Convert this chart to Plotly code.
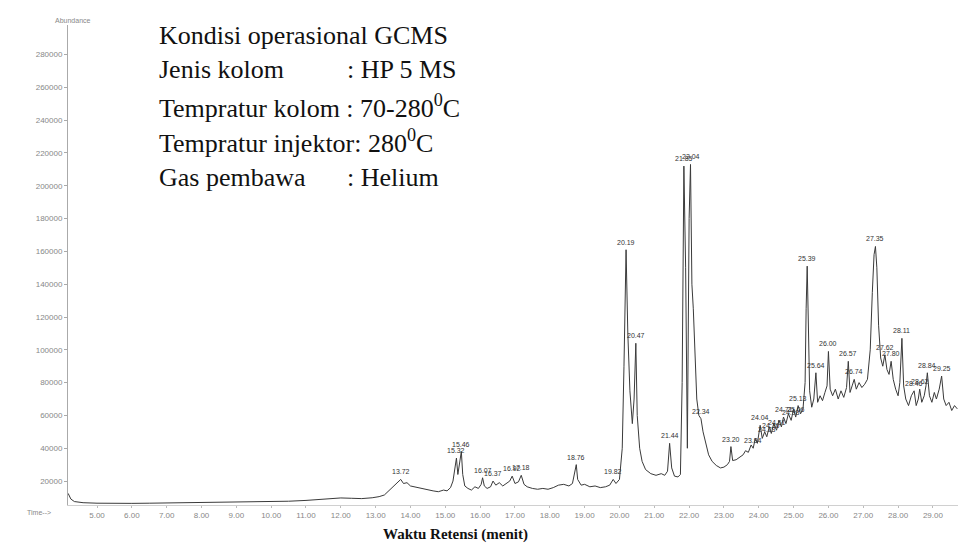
import numpy as np
import plotly.graph_objects as go

# ---- data (retention time in minutes, abundance) ----
time_min = [
    4.17, 4.25, 4.35, 4.6, 5.0, 5.5, 6.0, 6.5, 7.0, 7.5, 8.0, 8.5, 9.0, 9.5, 10.0, 10.5,
    11.0, 11.5, 12.0, 12.3, 12.6, 12.9, 13.1, 13.25, 13.35, 13.45, 13.55, 13.62, 13.72,
    13.8, 13.9, 14.0, 14.1, 14.2, 14.35, 14.5, 14.65, 14.8, 14.95, 15.05, 15.15, 15.22,
    15.28, 15.32, 15.36, 15.41, 15.46, 15.5, 15.56, 15.65, 15.75, 15.85, 15.95, 16.03,
    16.07, 16.12, 16.2, 16.3, 16.37, 16.45, 16.55, 16.65, 16.75, 16.85, 16.92, 17.0,
    17.1, 17.18, 17.26, 17.35, 17.5, 17.65, 17.8, 17.95, 18.1, 18.25, 18.4, 18.55,
    18.65, 18.72, 18.76, 18.8, 18.9, 19.0, 19.15, 19.3, 19.45, 19.6, 19.72, 19.82,
    19.9, 20.0, 20.08, 20.13, 20.19, 20.24, 20.3, 20.37, 20.42, 20.47, 20.51, 20.58,
    20.65, 20.75, 20.9, 21.05, 21.2, 21.3, 21.38, 21.44, 21.5, 21.58, 21.68, 21.75,
    21.8, 21.85, 21.9, 21.95, 22.0, 22.04, 22.08, 22.12, 22.17, 22.22, 22.28, 22.34,
    22.4, 22.48, 22.56, 22.66, 22.78, 22.9, 23.0, 23.1, 23.16, 23.2, 23.25, 23.35,
    23.45, 23.55, 23.62, 23.7, 23.78, 23.84, 23.9, 23.96, 24.04, 24.1, 24.17, 24.23,
    24.3, 24.36, 24.43, 24.51, 24.58, 24.65, 24.71, 24.78, 24.85, 24.93, 25.0, 25.06,
    25.13, 25.2, 25.27, 25.33, 25.36, 25.39, 25.42, 25.46, 25.52, 25.58, 25.64, 25.69,
    25.76, 25.83, 25.9, 25.96, 26.0, 26.05, 26.12, 26.2, 26.28, 26.36, 26.44, 26.52,
    26.57, 26.62, 26.68, 26.74, 26.8, 26.88, 26.96, 27.04, 27.12, 27.2, 27.26, 27.31,
    27.35, 27.39, 27.44, 27.5, 27.56, 27.62, 27.68, 27.74, 27.8, 27.86, 27.93, 28.0,
    28.05, 28.11, 28.16, 28.22, 28.3, 28.38, 28.46, 28.52, 28.58, 28.62, 28.68, 28.75,
    28.8, 28.84, 28.9, 28.97, 29.04, 29.1, 29.18, 29.25, 29.31, 29.38, 29.46, 29.54,
    29.62, 29.7,
]
abundance = [
    12500, 9000, 7500, 6800, 6500, 6300, 6400, 6500, 6600, 6700, 6800, 6900, 7000, 7100, 7300, 7700,
    8200, 8800, 9700, 9500, 9300, 9800, 10500, 11500, 13500, 16000, 17500, 19500, 21000,
    18500, 19000, 17000, 16500, 16000, 15500, 14500, 14000, 13500, 14500, 14000, 16000, 20000,
    28000, 34000, 24000, 30000, 38000, 24000, 17000, 15500, 14500, 16500, 15500, 18000,
    22000, 17000, 15500, 16500, 20000, 17500, 19000, 17000, 18500, 20000, 23000, 18500,
    19500, 23500, 18000, 16500, 15500, 15000, 15500, 15000, 16000, 17500, 18000, 17000,
    18500, 25000, 30000, 21000, 17500, 18000, 16500, 17000, 16000, 16500, 17500, 21000,
    18500, 21000, 40000, 90000, 161000, 110000, 75000, 55000, 70000, 104000, 60000, 40000,
    32000, 27000, 24500, 23500, 24500, 23500, 26000, 43000, 28000, 23000, 22500, 24000,
    80000, 212000, 150000, 40000, 180000, 213000, 140000, 125000, 95000, 70000, 60000, 58000,
    50000, 42000, 36000, 32000, 29500, 28000, 28500, 30000, 32000, 41000, 32500, 33000,
    34500, 36000, 38500, 37500, 42000, 40000, 46000, 43000, 54000, 46000, 50000, 47000,
    53000, 49000, 55000, 51000, 57000, 53000, 59000, 55000, 61000, 57000, 64000, 59000,
    66000, 61000, 64000, 80000, 125000, 151000, 120000, 75000, 65000, 70000, 86000, 68000,
    72000, 69000, 74000, 78000, 99000, 76000, 72000, 76000, 70000, 75000, 71000, 77000,
    93000, 74000, 78000, 82000, 76000, 80000, 77000, 79000, 82000, 100000, 135000, 158000,
    163000, 150000, 115000, 95000, 90000, 97000, 88000, 85000, 93000, 82000, 76000, 72000,
    80000, 107000, 78000, 70000, 66000, 72000, 75000, 66000, 70000, 76000, 68000, 72000,
    78000, 86000, 72000, 68000, 74000, 70000, 76000, 84000, 70000, 66000, 68000, 63000,
    66000, 64000,
]

peak_label_times = [
    13.72, 15.32, 15.46, 16.07, 16.37, 16.92, 17.18, 18.76, 19.82, 20.19, 20.47, 21.44,
    21.85, 22.04, 22.34, 23.20, 23.84, 24.04, 24.23, 24.36, 24.51, 24.71, 24.93, 25.06,
    25.13, 25.39, 25.64, 26.00, 26.57, 26.74, 27.35, 27.62, 27.80, 28.11, 28.46, 28.62,
    28.84, 29.25,
]
peak_label_texts = [f"{t:.2f}" for t in peak_label_times]

x_tick_vals = list(range(5, 30))
x_tick_text = [f"{v:.2f}" for v in x_tick_vals]
y_tick_vals = list(range(20000, 300000, 20000))
y_tick_text = [str(v) for v in y_tick_vals]

info_lines_left = ["Kondisi operasional GCMS", "Jenis kolom",
                   "Tempratur kolom : 70-280<sup>0</sup>C",
                   "Tempratur injektor: 280<sup>0</sup>C", "Gas pembawa"]
info_lines_right = ["", ": HP 5 MS", "", "", ": Helium"]

# ---- figure ----
t_arr = np.array(time_min)
a_arr = np.array(abundance)

fig = go.Figure()
fig.add_trace(go.Scatter(x=time_min, y=abundance, mode="lines",
                         line=dict(color="#3a3a3a", width=1), hoverinfo="skip"))

annotations = []
for t, txt in zip(peak_label_times, peak_label_texts):
    near = np.abs(t_arr - t) <= 0.035
    top = a_arr[near].max() if near.any() else np.interp(t, t_arr, a_arr)
    annotations.append(dict(x=t, y=float(top), text=txt, showarrow=False,
                            yanchor="bottom", yshift=2,
                            font=dict(family="Arial", size=7, color="#333333")))

serif = "Liberation Serif, Times New Roman, serif"
line_y = [0.979, 0.908, 0.831, 0.758, 0.683]
for yl, left, right in zip(line_y, info_lines_left, info_lines_right):
    annotations.append(dict(x=0.1, y=yl, xref="paper", yref="paper", text=left,
                            showarrow=False, xanchor="left", yanchor="middle",
                            font=dict(family=serif, size=26, color="#111")))
    if right:
        annotations.append(dict(x=0.311, y=yl, xref="paper", yref="paper", text=right,
                                showarrow=False, xanchor="left", yanchor="middle",
                                font=dict(family=serif, size=26, color="#111")))

annotations.append(dict(x=0.435, y=-0.083, xref="paper", yref="paper",
                        text="<b>Waktu Retensi (menit)</b>", showarrow=False,
                        font=dict(family=serif, size=15, color="#111")))
annotations.append(dict(x=-0.017, y=1.021, xref="paper", yref="paper", text="Abundance",
                        showarrow=False, font=dict(family="Arial", size=7, color="#888")))
annotations.append(dict(x=-0.048, y=-0.027, xref="paper", yref="paper", text="Time-->",
                        showarrow=False, font=dict(family="Arial", size=7, color="#888")))

fig.update_layout(
    width=961, height=560,
    margin=dict(l=68, r=3, t=25, b=55),
    paper_bgcolor="white", plot_bgcolor="white",
    showlegend=False,
    annotations=annotations,
    xaxis=dict(range=[4.167, 29.72], tickvals=x_tick_vals, ticktext=x_tick_text,
               showgrid=False, zeroline=False, showline=True, linecolor="#d0d0d0",
               linewidth=1, ticks="outside", ticklen=2, tickcolor="#bbb",
               tickfont=dict(family="Arial", size=8, color="#888")),
    yaxis=dict(range=[5400, 298000], tickvals=y_tick_vals, ticktext=y_tick_text,
               showgrid=False, zeroline=False, showline=True, linecolor="#aaa",
               linewidth=1, ticks="outside", ticklen=3, tickcolor="#aaa",
               tickfont=dict(family="Arial", size=8, color="#888")),
)

fig.write_html("out.html", config={"displayModeBar": False},
               post_script="document.body.style.margin='0';document.body.style.overflow='hidden';")
